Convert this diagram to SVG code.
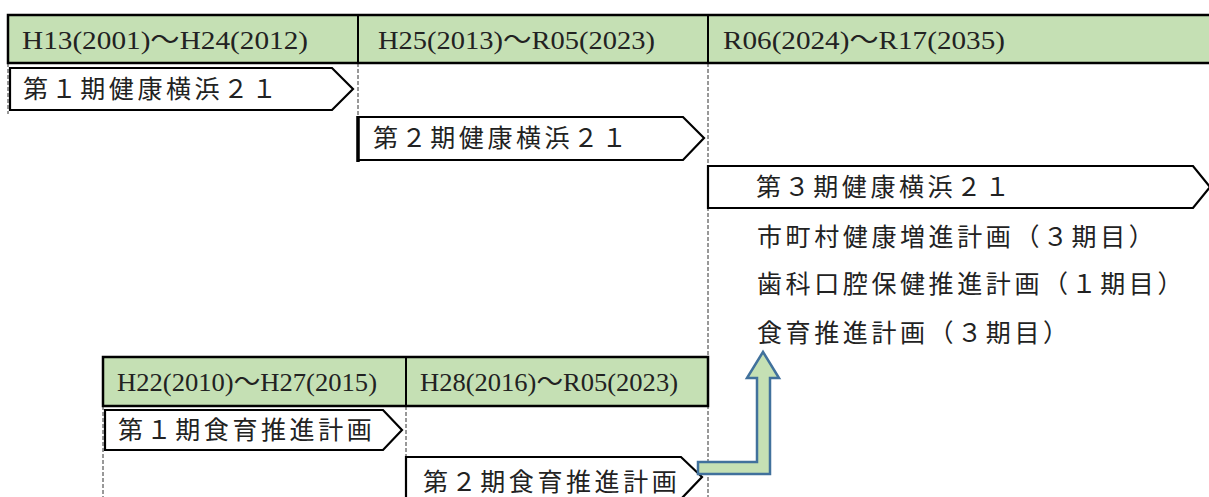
<svg xmlns="http://www.w3.org/2000/svg" width="1209" height="497" viewBox="0 0 1209 497">
<style>
.hdr{fill:#c5e0b4;stroke:#000;stroke-width:2.5}
.div{stroke:#000;stroke-width:2}
.dash{stroke:#333;stroke-width:1;stroke-dasharray:4 2;fill:none}
.pent{fill:#fff;stroke:#000;stroke-width:2.2;stroke-linejoin:miter}
.ht{font-family:"Liberation Serif","Noto Sans CJK JP",serif;font-size:26px;fill:#222}
.lt{font-family:"Noto Sans CJK JP",sans-serif;font-size:25px;letter-spacing:3.6px;fill:#222}
.blk{fill:#c5e0b4;stroke:#41719c;stroke-width:2.5;stroke-linejoin:miter}
</style>
<rect width="1209" height="497" fill="#fff"/>
<g id="guides">
<line class="dash" x1="8" y1="63" x2="8" y2="114"/>
<line class="dash" x1="358" y1="63" x2="358" y2="162"/>
<line class="dash" x1="708" y1="63" x2="708" y2="497"/>
<line class="dash" x1="103" y1="406" x2="103" y2="497"/>
<line class="dash" x1="406" y1="406" x2="406" y2="458"/>
</g>
<g id="header-top">
<rect class="hdr" x="8" y="15" width="1206" height="48"/>
<line class="div" x1="358" y1="15" x2="358" y2="63"/>
<line class="div" x1="708" y1="15" x2="708" y2="63"/>
<text class="ht" x="22" y="49" textLength="286" lengthAdjust="spacingAndGlyphs">H13(2001)～H24(2012)</text>
<text class="ht" x="378" y="49" textLength="277" lengthAdjust="spacingAndGlyphs">H25(2013)～R05(2023)</text>
<text class="ht" x="723" y="49" textLength="282" lengthAdjust="spacingAndGlyphs">R06(2024)～R17(2035)</text>
</g>
<g id="kenko1">
<polygon class="pent" points="10,68 332,68 353,89 332,110 10,110"/>
<text class="lt" x="23" y="98">第１期健康横浜２１</text>
</g>
<g id="kenko2">
<polygon class="pent" points="358,117 683,117 704,138 683,160 358,160"/>
<line x1="358" y1="116" x2="358" y2="162" stroke="#000" stroke-width="3.5"/>
<text class="lt" x="373" y="147">第２期健康横浜２１</text>
</g>
<g id="kenko3">
<polygon class="pent" points="708,166 1193,166 1210,187 1193,208 708,208"/>
<text class="lt" x="756" y="196">第３期健康横浜２１</text>
</g>
<g id="plans3">
<text class="lt" x="757" y="246">市町村健康増進計画（３期目）</text>
<text class="lt" x="757" y="293">歯科口腔保健推進計画（１期目）</text>
<text class="lt" x="757" y="342">食育推進計画（３期目）</text>
</g>
<g id="header-bottom">
<rect class="hdr" x="103" y="357" width="605" height="49"/>
<line class="div" x1="406" y1="357" x2="406" y2="406"/>
<text class="ht" x="117" y="391" textLength="260" lengthAdjust="spacingAndGlyphs">H22(2010)～H27(2015)</text>
<text class="ht" x="420" y="391" textLength="258" lengthAdjust="spacingAndGlyphs">H28(2016)～R05(2023)</text>
</g>
<g id="shokuiku1">
<polygon class="pent" points="105,410 383,410 402,430 383,450 105,450"/>
<text class="lt" x="118" y="439">第１期食育推進計画</text>
</g>
<g id="shokuiku2">
<polygon class="pent" points="406,457 681,457 702,477 681,499 406,499"/>
<text class="lt" x="423" y="491">第２期食育推進計画</text>
</g>
<g id="connectors">
<path class="blk" d="M698,462 L757,462 L757,378 L747,378 L763,352 L779,378 L770,378 L770,474 L698,474 Z"/>
</g>
</svg>
